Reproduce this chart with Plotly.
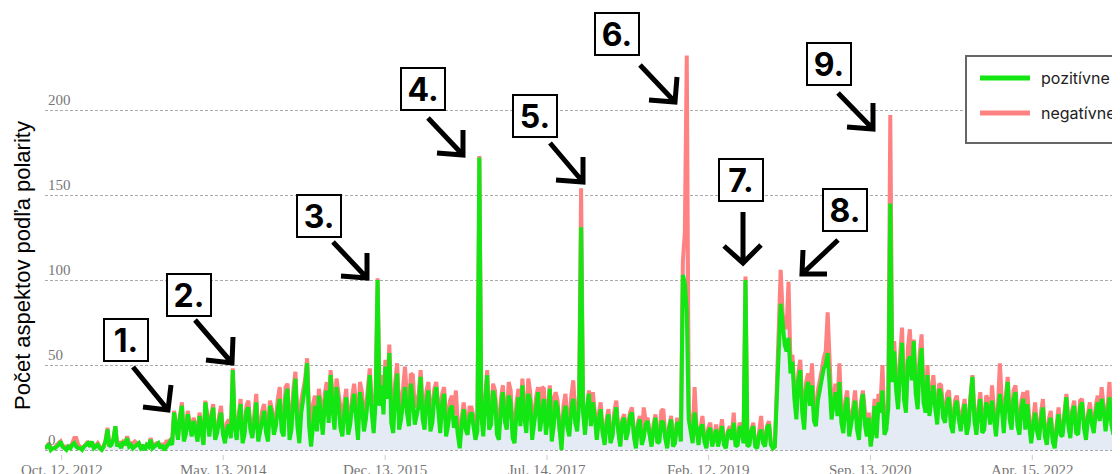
import pandas as pd
import plotly.graph_objects as go

# týždenné vzorky od 13. 8. 2012
zaciatok = "2012-08-13"
krok = "7D"

pozitivne = [
    1, 2, 3, 0, 1, 1, 2, 3, 5, 2, 1, 0, 2, 1, 3, 4, 2, 1, 1, 0, 2, 3, 4, 2, 5, 1, 2, 3, 1, 0, 2, 5, 12, 2,
    3, 6, 14, 2, 4, 1, 5, 3, 7, 2, 3, 1, 2, 3, 4, 1, 2, 0, 3, 2, 6, 1, 2, 3, 4, 1, 3, 0, 2, 4, 5, 3,
    22, 14, 6, 19, 26, 5, 9, 21, 14, 8, 17, 11, 5, 20, 12, 3, 28, 16, 8, 18, 25, 6, 10, 17, 22, 9, 4, 12,
    15, 7, 47, 13, 6, 18, 27, 4, 9, 23, 25, 12, 7, 16, 28, 5, 11, 19, 23, 10, 5, 26, 21, 9, 14, 24, 30, 11,
    8, 31, 36, 6, 12, 29, 42, 14,
    4, 22, 30, 38, 51, 14, 2, 18, 26, 11, 32, 20, 9, 27, 35, 16, 44, 24, 12, 37, 28, 13, 8, 22, 31, 9,
    15, 26, 33, 19, 6, 34, 27, 11, 18, 30, 44, 22, 10, 28,
    100, 26,
    38, 21, 49, 30, 57, 16, 10, 33, 45, 12, 18, 28, 37, 22, 14, 39, 30, 15, 20, 26, 43, 18, 12, 29, 35, 11,
    16, 31, 37, 19, 10, 27, 33, 8, 14, 24, 26, 13, 20, 9, 1, 15, 24, 12, 9, 20, 22, 14, 6, 11,
    172, 20,
    8, 27, 44, 12, 15, 35, 30, 9, 6, 24, 34, 17, 12, 32, 28, 7, 4, 22, 31, 14, 38, 19, 10, 33, 29, 6,
    16, 27, 34, 11, 22, 30, 9, 18, 36, 5, 14, 29, 25, 9, 0, 20, 26, 13, 8, 24, 30, 16, 11, 27,
    131, 22,
    9, 25, 33, 14, 28, 20, 6, 17, 24, 10, 3, 15, 21, 4, 8, 19, 25, 11, 2, 16, 19, 6, 11, 20, 22, 8,
    1, 14, 18, 3, 7, 15, 17, 9, 2, 12, 19, 4, 5, 17, 16, 7, 1, 13, 18, 2, 4, 16, 15, 5,
    103, 98, 82, 18,
    12, 4, 22, 10, 3, 13, 15, 5, 1, 11, 13, 2, 6, 12, 2, 9, 14, 3, 1, 10, 12, 6, 16, 2, 3, 14, 11, 4,
    100, 2,
    3, 11, 14, 2, 1, 9, 12, 4, 2, 13, 15, 3, 1, 2,
    30, 55, 86, 75, 62, 58, 66, 45,
    52, 30, 18, 41, 47, 22, 12, 35, 40, 26, 38, 17, 14, 29, 36, 42, 48, 50,
    57, 38,
    18, 27, 34, 20, 40, 16, 10, 25, 31, 8, 14, 22, 29, 12, 6, 24, 33, 15, 8, 19, 2, 11, 26, 7, 28, 22,
    35, 9, 12, 25,
    145, 40,
    58, 35, 24, 48, 63, 30, 22, 52, 55, 41, 64, 33, 24, 50, 60, 28, 22, 44,
    20, 30, 38, 24, 15, 36, 33, 19, 16, 28, 31, 14, 10, 25, 29, 18,
    11, 20, 27, 9, 14, 30, 43, 17, 9, 22, 30, 10, 12, 28, 25, 15, 29, 19, 8, 22,
    33, 24, 10, 28, 40, 18, 12, 30, 34, 14, 9, 25, 30, 12, 27, 15,
    4, 14, 22, 11, 6, 18, 25, 8, 3, 15, 19, 5, 1, 12, 21, 9,
    8, 20, 31, 14, 7, 22, 26, 10, 9, 25, 28, 13, 6, 19, 24, 15,
    10, 22, 28, 17, 30, 24, 11, 20, 31, 15, 9, 23, 27, 18, 12,
]

negativne = [
    0, 0, 1, 1, 0, 0, 1, 1, 0, 0, 1, 2, 0, 1, 1, 3, 5, 2, 1, 0, 0, 1, 1, 0, 0, 0, 1, 1, 1, 0, 0, 1, 1, 0,
    1, 1, 0, 0, 1, 2, 0, 1, 1, 2, 1, 3, 3, 1, 0, 0, 1, 1, 0, 0, 1, 2, 1, 1, 0, 0, 1, 2, 3, 1, 1, 1,
    1, 2, 2, 1, 2, 3, 3, 2, 1, 1, 2, 4, 3, 2, 2, 1, 1, 2, 3, 3, 2, 1, 2, 3, 4, 2, 2, 4,
    3, 2, 1, 3, 5, 2, 3, 4, 2, 3, 4, 2, 3, 5, 5, 3, 2, 4, 4, 6, 6, 3, 3, 5, 4, 6, 7, 4,
    5, 6, 3, 5, 6, 7, 4, 8,
    9, 7, 5, 4, 3, 8, 10, 9, 6, 5, 4, 7, 8, 6, 5, 4, 3, 8, 6, 5, 4, 10, 9, 6, 5, 7,
    4, 5, 6, 8, 10, 6, 7, 9, 5, 6, 4, 8, 7, 5,
    1, 5,
    6, 8, 4, 6, 5, 9, 10, 7, 6, 11, 10, 8, 12, 9, 10, 6, 14, 10, 8, 7, 4, 9, 10, 6, 5, 8,
    8, 5, 3, 7, 9, 6, 4, 10, 7, 5, 6, 8, 15, 6, 5, 4, 4, 7, 6, 5, 3, 6, 5, 4,
    1, 5,
    6, 5, 3, 6, 7, 4, 5, 7, 8, 6, 4, 5, 6, 8, 7, 5, 9, 6, 5, 7, 4, 5, 6, 9, 5, 6,
    8, 4, 3, 7, 15, 6, 6, 5, 2, 8, 16, 5, 4, 3, 4, 6, 7, 5, 5, 8, 11, 6, 5, 6,
    23, 4,
    3, 2, 2, 3, 6, 2, 2, 4, 4, 1, 2, 3, 3, 2, 1, 4, 4, 1, 1, 2, 2, 3, 3, 2, 3, 1,
    1, 2, 2, 4, 18, 2, 2, 1, 1, 3, 2, 1, 3, 6, 8, 2, 1, 1, 2, 3, 1, 2, 3, 2,
    8, 30, 150, 6,
    4, 2, 15, 3, 2, 1, 5, 2, 1, 2, 3, 1, 1, 3, 1, 1, 4, 2, 1, 1, 2, 3, 6, 1, 1, 2, 2, 1,
    2, 1,
    1, 1, 2, 1, 1, 2, 8, 1, 1, 1, 2, 1, 0, 0,
    4, 8, 20, 5, 10, 14, 33, 6,
    4, 5, 5, 4, 6, 6, 4, 5, 5, 7, 13, 4, 5, 6, 4, 5, 6, 8,
    24, 6,
    6, 4, 5, 6, 11, 5, 6, 4, 4, 6, 5, 3, 6, 5, 4, 4, 2, 5, 3, 3, 1, 4, 4, 6, 5, 5,
    15, 4, 6, 5,
    52, 8,
    6, 5, 4, 7, 9, 5, 5, 8, 16, 6, 1, 5, 4, 6, 8, 4, 5, 6,
    3, 4, 6, 5, 4, 3, 5, 4, 3, 5, 4, 3, 4, 4, 3, 4,
    4, 3, 3, 4, 3, 2, 1, 4, 5, 3, 4, 5, 3, 4, 5, 3, 9, 4, 5, 3,
    18, 5, 4, 3, 3, 4, 4, 5, 4, 3, 3, 4, 4, 6, 8, 3,
    2, 3, 6, 2, 2, 4, 5, 2, 2, 3, 4, 2, 1, 3, 4, 2,
    3, 2, 2, 4, 3, 2, 3, 3, 2, 4, 2, 3, 3, 2, 4, 3,
    3, 4, 4, 3, 7, 2, 3, 4, 9, 3, 4, 2, 3, 4, 3,
]

tick_datumy = ["2012-10-12", "2014-05-13", "2015-12-13", "2017-07-14",
               "2019-02-12", "2020-09-13", "2022-04-15"]
tick_texty = ["Oct. 12, 2012", "May. 13, 2014", "Dec. 13, 2015", "Jul. 14, 2017",
              "Feb. 12, 2019", "Sep. 13, 2020", "Apr. 15, 2022"]
y_ticky = [0, 50, 100, 150, 200]
udalosti = ["1.", "2.", "3.", "4.", "5.", "6.", "7.", "8.", "9."]
nazvy = ["pozitívne", "negatívne"]
farby = ["#14e614", "#ff8282"]

assert len(pozitivne) == len(negativne)
datumy = pd.date_range(zaciatok, periods=len(pozitivne), freq=krok)
spolu = [p + n for p, n in zip(pozitivne, negativne)]

# stranka ma okraj 8 px, suradnice nizsie su v pixeloch obrazovky
OFF = 8
W, H = 1120, 474
ML, MB = 37, 27
PW, PH = W - ML, H - MB
DEN_PX = 0.27955  # px na den

x0 = pd.Timestamp("2012-10-12") - pd.Timedelta(days=(61.7 - 45) / DEN_PX)
x1 = x0 + pd.Timedelta(days=PW / DEN_PX)
x_rozsah = [x0.strftime("%Y-%m-%d %H:%M"), x1.strftime("%Y-%m-%d %H:%M")]


def px(x):
    return (x - OFF - ML) / PW


def py(y):
    return 1 - (y - OFF) / PH


fig = go.Figure()
fig.add_trace(go.Scatter(
    x=datumy, y=spolu, name=nazvy[1], mode="lines",
    line=dict(color=farby[1], width=4),
    fill="tozeroy", fillcolor="#e5ebf5", showlegend=False,
))
fig.add_trace(go.Scatter(
    x=datumy, y=pozitivne, name=nazvy[0], mode="lines",
    line=dict(color=farby[0], width=4), showlegend=False,
))

# popisy osi x (plotly skryval prvy popis pri okraji)
for d, t in zip(tick_datumy, tick_texty):
    fig.add_annotation(
        x=d, xref="x", y=py(461), yref="paper",
        xanchor="center", yanchor="top", text=t, showarrow=False,
        borderpad=0,
        font=dict(family="Liberation Serif", size=15, color="#777"),
    )
    fig.add_shape(type="line", xref="x", yref="paper",
                  x0=d, x1=d, y0=py(455), y1=py(460),
                  line=dict(color="#ccc", width=1))

# boxy s cislami udalosti (stred v pixeloch)
boxy = [(126, 340), (189, 295), (319, 216), (423, 89), (535, 116),
        (617, 34), (741, 180), (845, 210), (829, 64)]
for txt, (bx, by) in zip(udalosti, boxy):
    fig.add_annotation(
        x=px(bx), y=py(by), xref="paper", yref="paper",
        xanchor="center", yanchor="middle",
        text="<b>" + txt + "</b>", showarrow=False,
        font=dict(family="Inter", size=32, color="black"),
        width=40, height=38, borderpad=1, borderwidth=2,
        bordercolor="black", bgcolor="white",
    )

# sipky: start, hrot, dve ramena
sipky = [
    ((133, 367), (168, 410), (143, 407), (171, 385)),
    ((195, 320), (232, 363), (206, 360), (233, 337)),
    ((333, 242), (367, 278), (341, 276), (367, 253)),
    ((428, 118), (463, 155), (437, 153), (463, 130)),
    ((550, 143), (583, 182), (556, 180), (583, 157)),
    ((640, 65), (675, 102), (649, 100), (677, 77)),
    ((743, 212), (743, 263), (724, 246), (761, 245)),
    ((838, 240), (802, 274), (803, 250), (827, 274)),
    ((838, 93), (873, 129), (847, 127), (873, 103)),
]


def bod(pt):
    return f"{px(pt[0]):.5f},{py(pt[1]):.5f}"


for s, t, a, b in sipky:
    path = f"M{bod(s)} L{bod(t)} M{bod(a)} L{bod(t)} L{bod(b)}"
    fig.add_shape(type="path", path=path, xref="paper", yref="paper",
                  line=dict(color="black", width=5))

# legenda
fig.add_shape(type="rect", xref="paper", yref="paper",
              x0=px(966), x1=px(1140), y0=py(56), y1=py(143),
              line=dict(color="#666", width=2), fillcolor="white")
for i, (nazov, farba) in enumerate(zip(nazvy, farby)):
    yy = 78 + 35 * i
    fig.add_shape(type="line", xref="paper", yref="paper",
                  x0=px(980), x1=px(1030), y0=py(yy), y1=py(yy),
                  line=dict(color=farba, width=5))
    fig.add_annotation(
        x=px(1039), y=py(yy), xref="paper", yref="paper",
        xanchor="left", yanchor="middle", text=nazov, showarrow=False,
        font=dict(family="Inter", size=16, color="#222"),
    )

fig.add_annotation(
    x=px(22), y=py(266), xref="paper", yref="paper",
    xanchor="center", yanchor="middle",
    text="Počet aspektov podľa polarity", textangle=-90, showarrow=False,
    font=dict(family="Liberation Sans", size=22, color="black"),
)

fig.update_layout(
    width=W, height=H,
    margin=dict(l=ML, r=0, t=0, b=MB),
    paper_bgcolor="white", plot_bgcolor="white",
    showlegend=False,
    xaxis=dict(
        type="date",
        range=x_rozsah,
        showticklabels=False, ticks="",
        showgrid=False, zeroline=False, showline=False,
        automargin=False,
    ),
    yaxis=dict(
        range=[-2.94, 260.0],
        tickvals=y_ticky,
        showgrid=True, gridcolor="#aaa", gridwidth=1, griddash="3px,2px",
        zeroline=False, showline=False, ticks="",
        ticklabelposition="inside top",
        tickfont=dict(family="Liberation Serif", size=15, color="#777"),
        automargin=False,
    ),
)

fig.write_html("out.html")
